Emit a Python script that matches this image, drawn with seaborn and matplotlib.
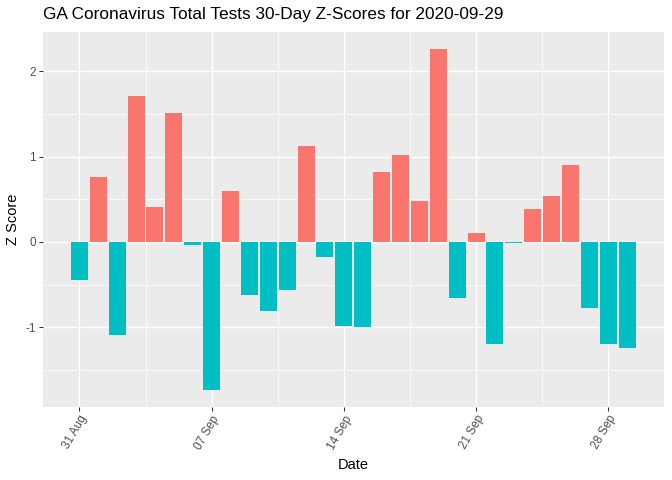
import numpy as np
import pandas as pd
import matplotlib
matplotlib.use("Agg")
import matplotlib.pyplot as plt
from matplotlib.ticker import FixedLocator
import seaborn as sns

# days since 31 Aug 2020 (31 Aug .. 29 Sep)
day = list(range(30))
z_score = [-0.45, 0.76, -1.09, 1.71, 0.41, 1.51, -0.035, -1.73, 0.60, -0.62,
           -0.81, -0.56, 1.125, -0.18, -0.99, -1.00, 0.82, 1.02, 0.48, 2.26,
           -0.66, 0.105, -1.19, -0.012, 0.39, 0.54, 0.90, -0.77, -1.20, -1.24]
tick_days = [0, 7, 14, 21, 28]
tick_labels = ["31 Aug", "07 Sep", "14 Sep", "21 Sep", "28 Sep"]

df = pd.DataFrame({"day": day, "z": z_score})
df["sign"] = np.where(df["z"] > 0, "pos", "neg")

sns.set_theme(style="darkgrid")
plt.rcParams["font.family"] = ["Liberation Sans", "DejaVu Sans"]

fig = plt.figure(figsize=(7, 5), dpi=96)
ax = fig.add_axes([0.0635, 0.1527, 0.9245, 0.7806])
ax.set_facecolor("#EBEBEB")

sns.barplot(data=df, x="day", y="z", hue="sign", native_scale=True,
            palette={"pos": "#F8766D", "neg": "#00BFC4"}, width=0.9,
            saturation=1, legend=False, ax=ax, linewidth=0)

# ggplot-like limits (5% expansion)
lo, hi = min(z_score), max(z_score)
pad = (hi - lo) * 0.05
ax.set_ylim(lo - pad, hi + pad)
xl, xh = -0.45, 29.45
xpad = (xh - xl) * 0.05
ax.set_xlim(xl - xpad, xh + xpad)

ax.xaxis.set_major_locator(FixedLocator(tick_days))
ax.xaxis.set_minor_locator(FixedLocator([-3.5, 3.5, 10.5, 17.5, 24.5, 31.5]))
ax.set_xticklabels(tick_labels, rotation=60, ha="right", rotation_mode="anchor")
ax.yaxis.set_major_locator(FixedLocator([-1, 0, 1, 2]))
ax.yaxis.set_minor_locator(FixedLocator([-1.5, -0.5, 0.5, 1.5]))
ax.set_yticklabels(["-1", "0", "1", "2"])

ax.grid(which="major", color="white", linewidth=1.1)
ax.grid(which="minor", color="white", linewidth=0.55)
ax.set_axisbelow(True)
for s in ax.spines.values():
    s.set_visible(False)

ax.tick_params(which="major", length=2.75, width=0.8, color="#333333",
               labelsize=8.8, labelcolor="#4D4D4D", pad=2.2)
ax.tick_params(which="minor", length=0)
ax.tick_params(axis="x", bottom=True)
ax.tick_params(axis="y", left=True)

ax.set_xlabel("Date", fontsize=11, color="black", labelpad=5)
ax.set_ylabel("Z Score", fontsize=11, color="black", labelpad=4)
fig.text(0.0635, 0.97, "GA Coronavirus Total Tests 30-Day Z-Scores for 2020-09-29",
         fontsize=12.9, color="black", ha="left", va="center")

fig.savefig("out.png", dpi=96)
